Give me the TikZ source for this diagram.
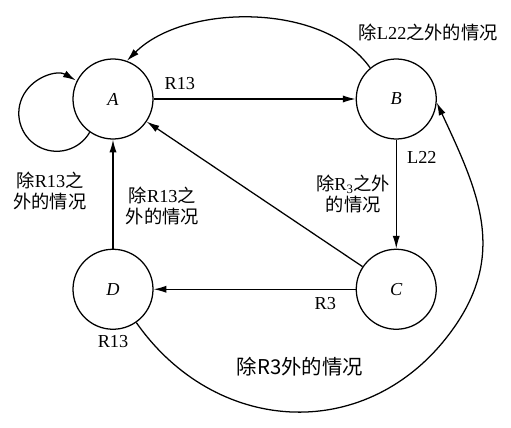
\documentclass[tikz,border=0pt]{standalone}
\usepackage{fontspec}
\setmainfont{Liberation Serif}
\newfontfamily\cjk{Noto Sans CJK SC}
\newcommand{\hanzi}[1]{{\cjk #1}}
\usetikzlibrary{arrows.meta,positioning}
\tikzset{%
  >={Latex[width=1.8mm,length=3.2mm]},
  % Specifications for style of nodes:
   state/.style = {circle, draw=black, line width=0.9pt,
                   minimum size=2cm, inner sep=0pt,
                   font=\fontsize{13}{15}\selectfont\itshape},
    cond/.style = {inner sep=1pt, align=center,
                   font=\fontsize{13}{15}\selectfont},
    link/.style = {->, line width=0.9pt},
}

\begin{document}
\begin{tikzpicture}
  \useasboundingbox (0,0) rectangle (12.775,10.7);
  % Specification of nodes (position, etc.)
  \node (stateA) [state] at (2.825,8.225)         {A};
  \node (stateB) [state, right=5.05cm of stateA]  {B};
  \node (stateD) [state, below=2.725cm of stateA] {D};
  \node (stateC) [state, right=5.05cm of stateD]  {C};
  \coordinate (bendCB) at (11.175,2.275);
  \node (condTop)  [cond, above=0.4cm of stateB, xshift=0.8cm]
                                   {\hanzi{除}L22\hanzi{之外的情况}};
  \node (condLoop) [cond] at (1.25,5.925)
                                   {\hanzi{除}R13\hanzi{之}\\\hanzi{外的情况}};
  \node (condD)    [cond, below=0.09cm of stateD] {R13};
  \node (condBig)  [cond, font=\fontsize{14.5}{17}\selectfont\cjk]
                                   at (7.5,1.525) {除R3外的情况};

  % Specification of lines between nodes specified above
  \draw[link]  (stateA) -- node[cond, above=0.19cm, pos=0.13] (condAB)
                           {R13} (stateB);
  \draw[link]  (stateB) -- node[cond, right=0.22cm, pos=0.165] (condBC)
                           {L22}
                           node[cond, left=0.1cm, pos=0.5] (condBCx)
                           {\hanzi{除}R\textsubscript{3}\hanzi{之外}\\\hanzi{的情况}}
                           (stateC);
  \draw[link]  (stateC) -- node[cond, below=0.14cm, pos=0.15] (condCD)
                           {R3} (stateD);
  \draw[link]  (stateD) -- node[cond, right=0.27cm, pos=0.39] (condDA)
                           {\hanzi{除}R13\hanzi{之}\\\hanzi{外的情况}} (stateA);
  \draw[link]  (stateC) -- (stateA);
  \draw[link]  (stateB.130) to[out=125, in=45, looseness=0.85] (stateA.70);
  \draw[link]  (stateA.235) arc[start angle=-30, end angle=-300, radius=0.95cm];
  \draw[link]  (stateD.-55) to[out=-55, in=-128, looseness=1.12] (bendCB)
                            to[out=52, in=-65, looseness=1.1] (stateB.-5);
\end{tikzpicture}
\end{document}
